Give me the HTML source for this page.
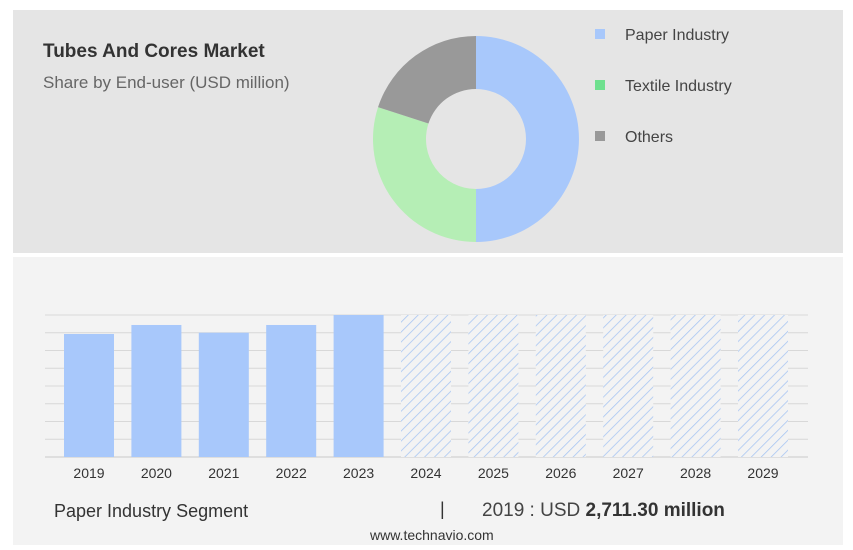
<!DOCTYPE html>
<html><head><meta charset="utf-8"><style>
body{margin:0;width:853px;height:550px;background:#fff;font-family:"Liberation Sans",sans-serif;position:relative;overflow:hidden}
.top{position:absolute;left:13px;top:10px;width:830px;height:243px;background:#e5e5e5}
.bot{position:absolute;left:13px;top:257px;width:830px;height:288px;background:#f3f3f3}
.t{position:absolute;white-space:nowrap}
</style></head><body>
<div class="top"></div>
<div class="bot"></div>
<div class="t" style="left:43px;top:41px;font-size:19px;font-weight:bold;color:#333">Tubes And Cores Market</div>
<div class="t" style="left:43px;top:73px;font-size:17px;color:#666">Share by End-user (USD million)</div>
<svg id="donut" width="853" height="550" style="position:absolute;left:0;top:0"></svg>
<svg id="bars" width="853" height="550" style="position:absolute;left:0;top:0">
<defs><pattern id="hatch" width="7" height="7" patternUnits="userSpaceOnUse" patternTransform="rotate(45)"><rect width="7" height="7" fill="#f3f3f3"/><line x1="0" y1="0" x2="0" y2="7" stroke="#a9c6f2" stroke-width="1.6"/></pattern></defs>
</svg>
<div class="t" style="left:54px;top:501px;font-size:18px;color:#333">Paper Industry Segment</div>
<div class="t" style="left:440px;top:499px;font-size:18px;color:#333">|</div>
<div class="t" style="left:482px;top:500px;font-size:19px;color:#444">2019 : USD <b style="color:#333">2,711.30 million</b></div>
<div class="t" style="left:370px;top:527px;font-size:14px;color:#333">www.technavio.com</div>
<script>
const NS="http://www.w3.org/2000/svg";
const segLabels=["Paper Industry","Textile Industry","Others"];
const segShares=[50,30,20];
const segColors=["#a8c8fb","#b5eeb5","#999999"];
const legColors=["#a8c8fb","#6fe08f","#999999"];
const years=["2019","2020","2021","2022","2023","2024","2025","2026","2027","2028","2029"];
const values=[2711.3,2910,2740,2910,3130,3130,3130,3130,3130,3130,3130];
const forecast=[false,false,false,false,false,true,true,true,true,true,true];
const yMax=3130;
const d=document.getElementById("donut");
const cx=476,cy=139,R=103,r=50;
let tot=segShares.reduce((a,b)=>a+b,0),acc=0;
segShares.forEach((v,i)=>{
 const a0=acc/tot*2*Math.PI,a1=(acc+v)/tot*2*Math.PI;acc+=v;
 const p=(a,rad)=>[cx+rad*Math.sin(a),cy-rad*Math.cos(a)];
 const[o0x,o0y]=p(a0,R),[o1x,o1y]=p(a1,R),[i1x,i1y]=p(a1,r),[i0x,i0y]=p(a0,r);
 const lg=(a1-a0)>Math.PI?1:0;
 const el=document.createElementNS(NS,"path");
 el.setAttribute("d",`M${o0x},${o0y}A${R},${R} 0 ${lg} 1 ${o1x},${o1y}L${i1x},${i1y}A${r},${r} 0 ${lg} 0 ${i0x},${i0y}Z`);
 el.setAttribute("fill",segColors[i]);
 
 
 d.appendChild(el);
 const sq=document.createElementNS(NS,"rect");
 sq.setAttribute("x",595);sq.setAttribute("y",29+i*51);sq.setAttribute("width",10);sq.setAttribute("height",10);sq.setAttribute("fill",legColors[i]);
 
 
 d.appendChild(sq);
 const tx=document.createElementNS(NS,"text");
 tx.setAttribute("x",625);tx.setAttribute("y",40+i*51);tx.setAttribute("font-size","16");tx.setAttribute("fill","#444");tx.textContent=segLabels[i];
 
 
 d.appendChild(tx);
});
const b=document.getElementById("bars");
const y0=457,y1=315,x0=45,step=67.4,bw=50;
const yS=v=>y0-(v/yMax)*(y0-y1);
for(let k=0;k<=8;k++){
 const g=document.createElementNS(NS,"line");
 const gy=y0-k*(y0-y1)/8;
 g.setAttribute("x1",45);g.setAttribute("x2",808);g.setAttribute("y1",gy);g.setAttribute("y2",gy);g.setAttribute("stroke",k==0?"#c8c8c8":"#d8d8d8");
 
 
 b.appendChild(g);
}
years.forEach((yr,i)=>{
 const x=64+i*step;
 const rc=document.createElementNS(NS,"rect");
 rc.setAttribute("x",x);rc.setAttribute("y",yS(values[i]));rc.setAttribute("width",bw);rc.setAttribute("height",y0-yS(values[i]));
 rc.setAttribute("fill",forecast[i]?"url(#hatch)":"#a8c8fb");
 
 
 b.appendChild(rc);
 const t=document.createElementNS(NS,"text");
 t.setAttribute("x",x+bw/2);t.setAttribute("y",478);t.setAttribute("text-anchor","middle");t.setAttribute("font-size","14");t.setAttribute("fill","#333");t.textContent=yr;
 
 
 b.appendChild(t);
});
</script>
</body></html>
